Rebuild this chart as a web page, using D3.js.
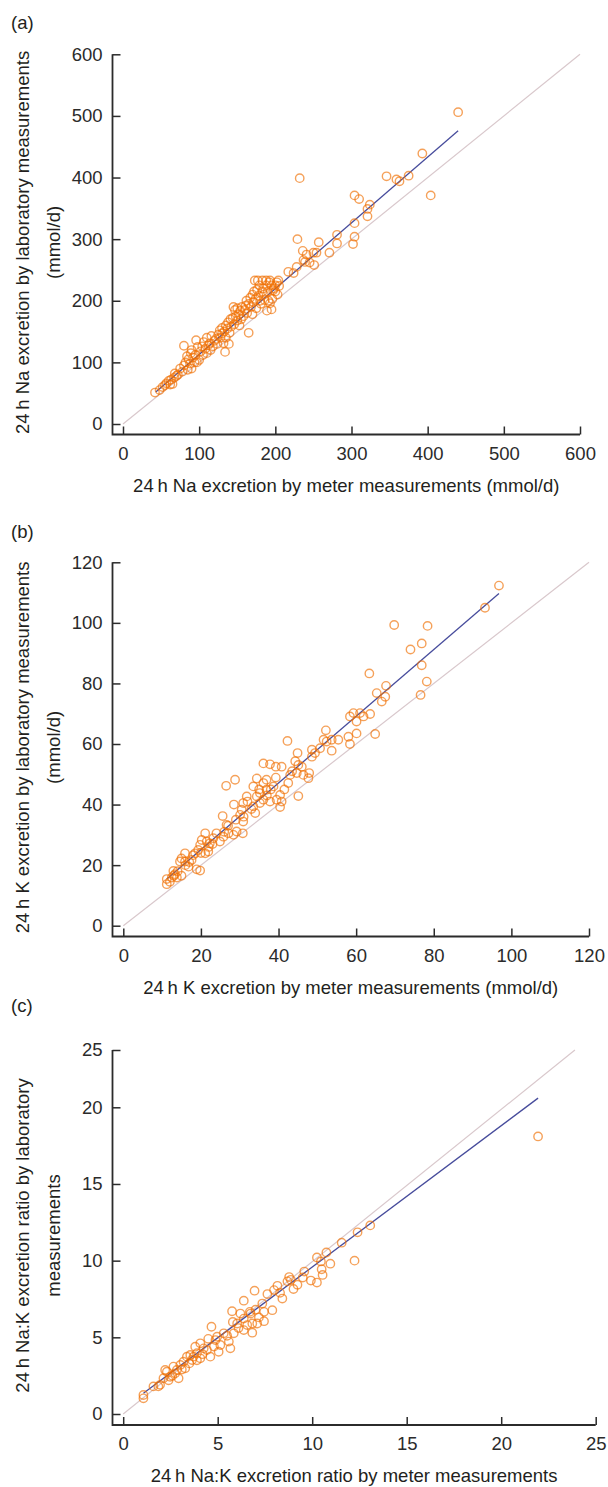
<!DOCTYPE html>
<html>
<head>
<meta charset="utf-8">
<script src="https://cdn.jsdelivr.net/npm/d3@7"></script>
<style>
  body { margin: 0; background: #fff; }
  text { font-family: "Liberation Sans", Arial, Helvetica, sans-serif; }
</style>
</head>
<body>
<svg id="fig" width="608" height="1487"></svg>
<script>
// tick labels
let naTicks = [0, 100, 200, 300, 400, 500, 600];
let kTicks = [0, 20, 40, 60, 80, 100, 120];
let ratioTicks = [0, 5, 10, 15, 20, 25];

// (a) 24 h Na: [meter, laboratory] mmol/d
let naPoints = [
    [42, 51], [48, 55], [52, 60], [55, 63], [57, 66], [60, 70], [62, 64], [65, 65], [63, 72], [67, 75], [70, 78], [68, 82],
    [72, 80], [75, 90], [78, 85], [80, 95], [80, 127], [82, 100], [84, 110], [85, 88], [86, 105], [88, 98], [89, 115],
    [90, 90], [90, 120], [92, 108], [94, 100], [95, 112], [96, 136], [97, 100], [98, 125], [100, 104],
    [102, 118], [104, 126], [105, 112], [106, 133], [108, 122], [110, 115], [110, 140], [112, 128], [114, 131],
    [115, 120], [116, 143], [118, 126], [120, 135], [122, 138], [124, 130], [125, 145], [127, 152], [128, 140],
    [130, 147], [130, 156], [132, 131], [133, 150], [134, 117], [135, 140], [135, 160], [137, 155], [138, 165],
    [139, 130], [140, 148], [141, 170], [142, 158], [144, 172], [145, 190], [146, 162], [147, 185], [148, 175],
    [150, 168], [150, 188], [152, 178], [153, 160], [154, 184], [155, 170], [156, 190], [158, 175], [160, 185],
    [161, 192], [162, 200], [163, 180], [165, 148], [165, 195], [167, 205], [168, 190], [170, 210], [170, 178],
    [171, 198], [172, 215], [173, 233], [174, 203], [175, 188], [176, 218], [177, 233], [178, 208], [179, 225],
    [180, 200], [181, 195], [183, 233], [183, 215], [184, 220], [185, 210], [186, 201], [188, 233], [188, 225],
    [189, 184], [190, 215], [191, 200], [192, 230], [193, 233], [193, 196], [195, 186], [195, 225], [196, 203],
    [197, 217], [198, 220], [200, 215], [200, 225], [202, 230], [203, 210], [204, 233], [205, 224],
    [217, 247], [224, 245], [228, 255], [229, 300], [232, 399], [236, 281], [237, 266], [239, 263], [241, 275],
    [245, 262], [250, 278], [251, 258], [254, 278], [257, 295], [271, 278], [281, 307], [281, 293], [302, 292],
    [304, 304], [304, 326], [310, 365], [304, 371], [321, 337], [321, 349], [324, 356],
    [346, 402], [359, 397], [363, 394], [375, 403], [393, 439], [404, 371], [440, 506]
];
let naFit = [[43, 52], [440, 476]];

// (b) 24 h K: [meter, laboratory] mmol/d
let kPoints = [
    [96.8, 112.3], [93.2, 105], [69.8, 99.3], [78.4, 99], [74, 91.2], [76.9, 93.2], [76.9, 86], [78.2, 80.6],
    [76.6, 76.2], [63.4, 83.3], [67.7, 79.2], [65.3, 76.8], [66.6, 74], [67.5, 75.6], [64.9, 63.3], [58.4, 69.1],
    [59.3, 70.2], [61, 70.2], [61.9, 69.1], [63.6, 69.9], [60.1, 67.4], [58, 62.4], [58.4, 60], [60.1, 63.5],
    [52.2, 64.5], [51.6, 61.4], [52.4, 60.8], [53.7, 61.4], [53.7, 57.8], [55.4, 61.4], [48.6, 58.1], [49.4, 57],
    [50.7, 58.6], [48.6, 55.8], [42.3, 61], [44.9, 57], [44.3, 54.3], [45.1, 53.1], [44.7, 50.4], [46.4, 49.8],
    [47.7, 48.7], [47.9, 50.4], [45.1, 42.8], [36.1, 53.6], [37.8, 53.3], [39.3, 52.5], [40.8, 52.5], [43, 49.8],
    [42.5, 47.1], [39.3, 48.9], [36.9, 48.2], [36.1, 47.1], [34.4, 48.6], [33.5, 46], [35.2, 43.8], [36.9, 44.9],
    [38.7, 46], [40.4, 43.2], [40.8, 41], [40.4, 39.2], [39.5, 41.6], [37.8, 41], [36.1, 41.6], [35.2, 40.5],
    [34.4, 42.7], [33.5, 39.4], [34, 37.2], [28.8, 48.2], [26.5, 46.2], [28.5, 40], [31.8, 42.7], [30.9, 40.5],
    [30.5, 38.3], [30.1, 36.6], [30.9, 34.4], [30.8, 30.5], [25.6, 36.2], [26.6, 33.3], [27.1, 30.5], [28.4, 30],
    [29.2, 31.1], [24.9, 27.8], [25.8, 29.4], [24, 30.5], [23.2, 28.9], [21.1, 30.5], [21.5, 27.8], [20.2, 28.3],
    [19.8, 26.7], [19.3, 25], [21.1, 23.9], [18.5, 23.9], [21.9, 24.5], [22.3, 27.2], [18.9, 18.6], [19.8, 18.2],
    [16.8, 19.5], [15.9, 23.9], [15, 22.2], [14.6, 21.2], [15.9, 21.2], [17.6, 21.7], [18, 23.3], [12.9, 18.1],
    [13.8, 15.9], [15, 16.5], [11.2, 15.4], [11.2, 13.7], [12.5, 15.9], [13.3, 17],
    [43.5, 51], [46, 52.5], [41.5, 45], [38, 45], [35, 45], [32, 41], [29, 35], [27, 33], [23, 27], [22, 26],
    [20, 24], [17, 21], [16, 20], [14, 18], [13, 16.5], [12, 14.5], [26, 31], [31, 36], [33, 38.5], [37, 43]
];
let kFit = [[11.2, 15.4], [96.8, 109.7]];

// (c) 24 h Na:K ratio: [meter, laboratory]
let ratioPoints = [
    [13.07, 12.3], [12.4, 11.85], [11.56, 11.17], [12.24, 10], [10.75, 10.53], [10.25, 10.21], [10.46, 9.95],
    [10.96, 9.8], [10.5, 9.44], [10.55, 9.07], [9.93, 8.7], [10.25, 8.57], [9.58, 9.29], [8.78, 8.93], [8.87, 8.75],
    [9.01, 8.15], [9.22, 8.43], [8.69, 8.65], [8.16, 8.36], [7.98, 8.08], [7.63, 7.82], [8.42, 7.53], [7.89, 6.77],
    [6.95, 8.04], [6.38, 7.39], [7.36, 7.2], [7.45, 6.66], [7.45, 6.05], [7.09, 5.9], [7.18, 6.3], [6.83, 5.9],
    [6.83, 5.3], [6.74, 6.55], [6.7, 6.66], [5.76, 6.7], [6.2, 6.55], [6.38, 6.22], [6.03, 5.9], [6.56, 5.8],
    [5.85, 5.26], [6.38, 5.47], [5.59, 4.72], [5.67, 4.28], [4.67, 5.69], [4.97, 5.04], [5.32, 5.26], [4.88, 4.82],
    [5.14, 4.5], [4.61, 3.74], [5.05, 4.06], [4.08, 4.61], [4.26, 4.28], [4.43, 4.17], [3.9, 3.96], [3.81, 4.39],
    [4.08, 3.63], [3.72, 3.74], [3.55, 3.85], [3.64, 3.52], [3.37, 3.74], [3.19, 3.41], [3.28, 2.98], [3.02, 3.2],
    [2.93, 2.33], [2.84, 2.87], [2.66, 3.09], [2.75, 2.65], [2.48, 2.43], [2.31, 2.76], [2.22, 2.87], [2.13, 2.33],
    [1.95, 1.9], [1.86, 1.8], [1.6, 1.8], [1.07, 1.24], [1.07, 1.02], [21.95, 18.1],
    [3.5, 3.3], [4.2, 3.9], [4.8, 4.4], [5.5, 5.1], [6.1, 5.6], [2.6, 2.5], [3.1, 2.9], [4.5, 4.9], [5.8, 6.0],
    [7.0, 6.8], [8.3, 7.9], [9.5, 8.9], [3.9, 3.5], [2.4, 2.2]
];
let ratioFit = [[1.07, 1.35], [21.95, 20.8]];

let svg = d3.select("#fig");
svg.append("rect").attr("width", 608).attr("height", 1487).attr("fill", "#fff");

let fontSize = 18.5;
let axisColor = "#2b2b2b";
let pointColor = "rgb(240,110,0)";

let panels = [
    {
        tag: "(a)", tagY: 29,
        points: naPoints, fit: naFit, ticks: naTicks, xTicks: naTicks,
        xDomain: [0, 600], xRange: [123, 580],
        yDomain: [0, 600], yRange: [424, 54.3],
        refEnd: [600, 600], axisX: 112.5, axisY: 434.5,
        xTitle: "24\u2009h Na excretion by meter measurements (mmol/d)",
        yTitle: ["24\u2009h Na excretion by laboratory measurements", "(mmol/d)"]
    },
    {
        tag: "(b)", tagY: 538,
        points: kPoints, fit: kFit, ticks: kTicks, xTicks: kTicks,
        xDomain: [0, 120], xRange: [123.3, 589],
        yDomain: [0, 120], yRange: [925.7, 562.3],
        refEnd: [120, 120], axisX: 112.5, axisY: 936.5,
        xTitle: "24\u2009h K excretion by meter measurements (mmol/d)",
        yTitle: ["24\u2009h K excretion by laboratory measurements", "(mmol/d)"]
    },
    {
        tag: "(c)", tagY: 1012,
        points: ratioPoints, fit: ratioFit, ticks: ratioTicks, xTicks: ratioTicks,
        xDomain: [0, 25], xRange: [123.2, 595.7],
        // top of the printed axis is compressed: 25 sits closer to 20 than the other steps
        yDomain: [0, 20, 25], yRange: [1414, 1107.3, 1050],
        refEnd: [23.9, 25], axisX: 112.5, axisY: 1425,
        xTitle: "24\u2009h Na:K excretion ratio by meter measurements",
        yTitle: ["24\u2009h Na:K excretion ratio by laboratory", "measurements"]
    }
];

panels.forEach(drawPanel);

function drawPanel(p) {
    let g = svg.append("g");
    let x = d3.scaleLinear().domain(p.xDomain).range(p.xRange);
    let y = d3.scaleLinear().domain(p.yDomain).range(p.yRange);
    let yTop = p.yRange[p.yRange.length - 1];
    let xRight = p.xRange[1];

    // line of identity
    g.append("line")
        .attr("x1", x(0)).attr("y1", y(0))
        .attr("x2", x(p.refEnd[0])).attr("y2", y(p.refEnd[1]))
        .attr("stroke", "#d9c8cc")
        .attr("stroke-width", 1.2);

    // regression line (under the circles)
    g.append("line")
        .attr("x1", x(p.fit[0][0])).attr("y1", y(p.fit[0][1]))
        .attr("x2", x(p.fit[1][0])).attr("y2", y(p.fit[1][1]))
        .attr("stroke", "#474c9c")
        .attr("stroke-width", 1.3);

    // the points
    g.append("g")
        .selectAll("circle")
        .data(p.points)
        .enter()
        .append("circle")
        .attr("cx", function (d) { return x(d[0]); })
        .attr("cy", function (d) { return y(d[1]); })
        .attr("r", 4.2)
        .attr("fill", "none")
        .attr("stroke", pointColor)
        .attr("stroke-opacity", 0.65)
        .attr("stroke-width", 1.4);

    // axes, ticks pointing inwards
    let yAxis = d3.axisLeft(y).tickValues(p.ticks).tickSizeInner(-8).tickSizeOuter(0).tickPadding(10);
    g.append("g")
        .attr("transform", "translate(" + p.axisX + ",0)")
        .call(yAxis)
        .call(function (a) { a.select(".domain").remove(); })
        .attr("font-size", fontSize)
        .attr("font-family", null)
        .attr("color", axisColor)
        .selectAll("line").attr("stroke-width", 1.5);

    let xAxis = d3.axisBottom(x).tickValues(p.xTicks).tickSizeInner(-8).tickSizeOuter(0).tickPadding(12);
    g.append("g")
        .attr("transform", "translate(0," + p.axisY + ")")
        .call(xAxis)
        .call(function (a) { a.select(".domain").remove(); })
        .attr("font-size", fontSize)
        .attr("font-family", null)
        .attr("color", axisColor)
        .selectAll("line").attr("stroke-width", 1.5);

    g.append("path")
        .attr("d", "M" + p.axisX + "," + yTop + "V" + p.axisY + "H" + xRight)
        .attr("fill", "none")
        .attr("stroke", axisColor)
        .attr("stroke-width", 1.8);

    // titles
    g.append("text")
        .attr("x", (p.axisX + xRight) / 2)
        .attr("y", p.axisY + 57)
        .attr("text-anchor", "middle")
        .attr("font-size", fontSize)
        .attr("fill", "#231f20")
        .text(p.xTitle);

    let yMid = (yTop + p.axisY) / 2 - 2;
    [28.5, 59.5].forEach(function (bx, i) {
        g.append("text")
            .attr("transform", "translate(" + bx + "," + yMid + ") rotate(-90)")
            .attr("text-anchor", "middle")
            .attr("font-size", fontSize)
            .attr("fill", "#231f20")
            .text(p.yTitle[i]);
    });

    g.append("text")
        .attr("x", 11)
        .attr("y", p.tagY)
        .attr("font-size", fontSize)
        .attr("fill", "#231f20")
        .text(p.tag);
}
</script>
</body>
</html>
